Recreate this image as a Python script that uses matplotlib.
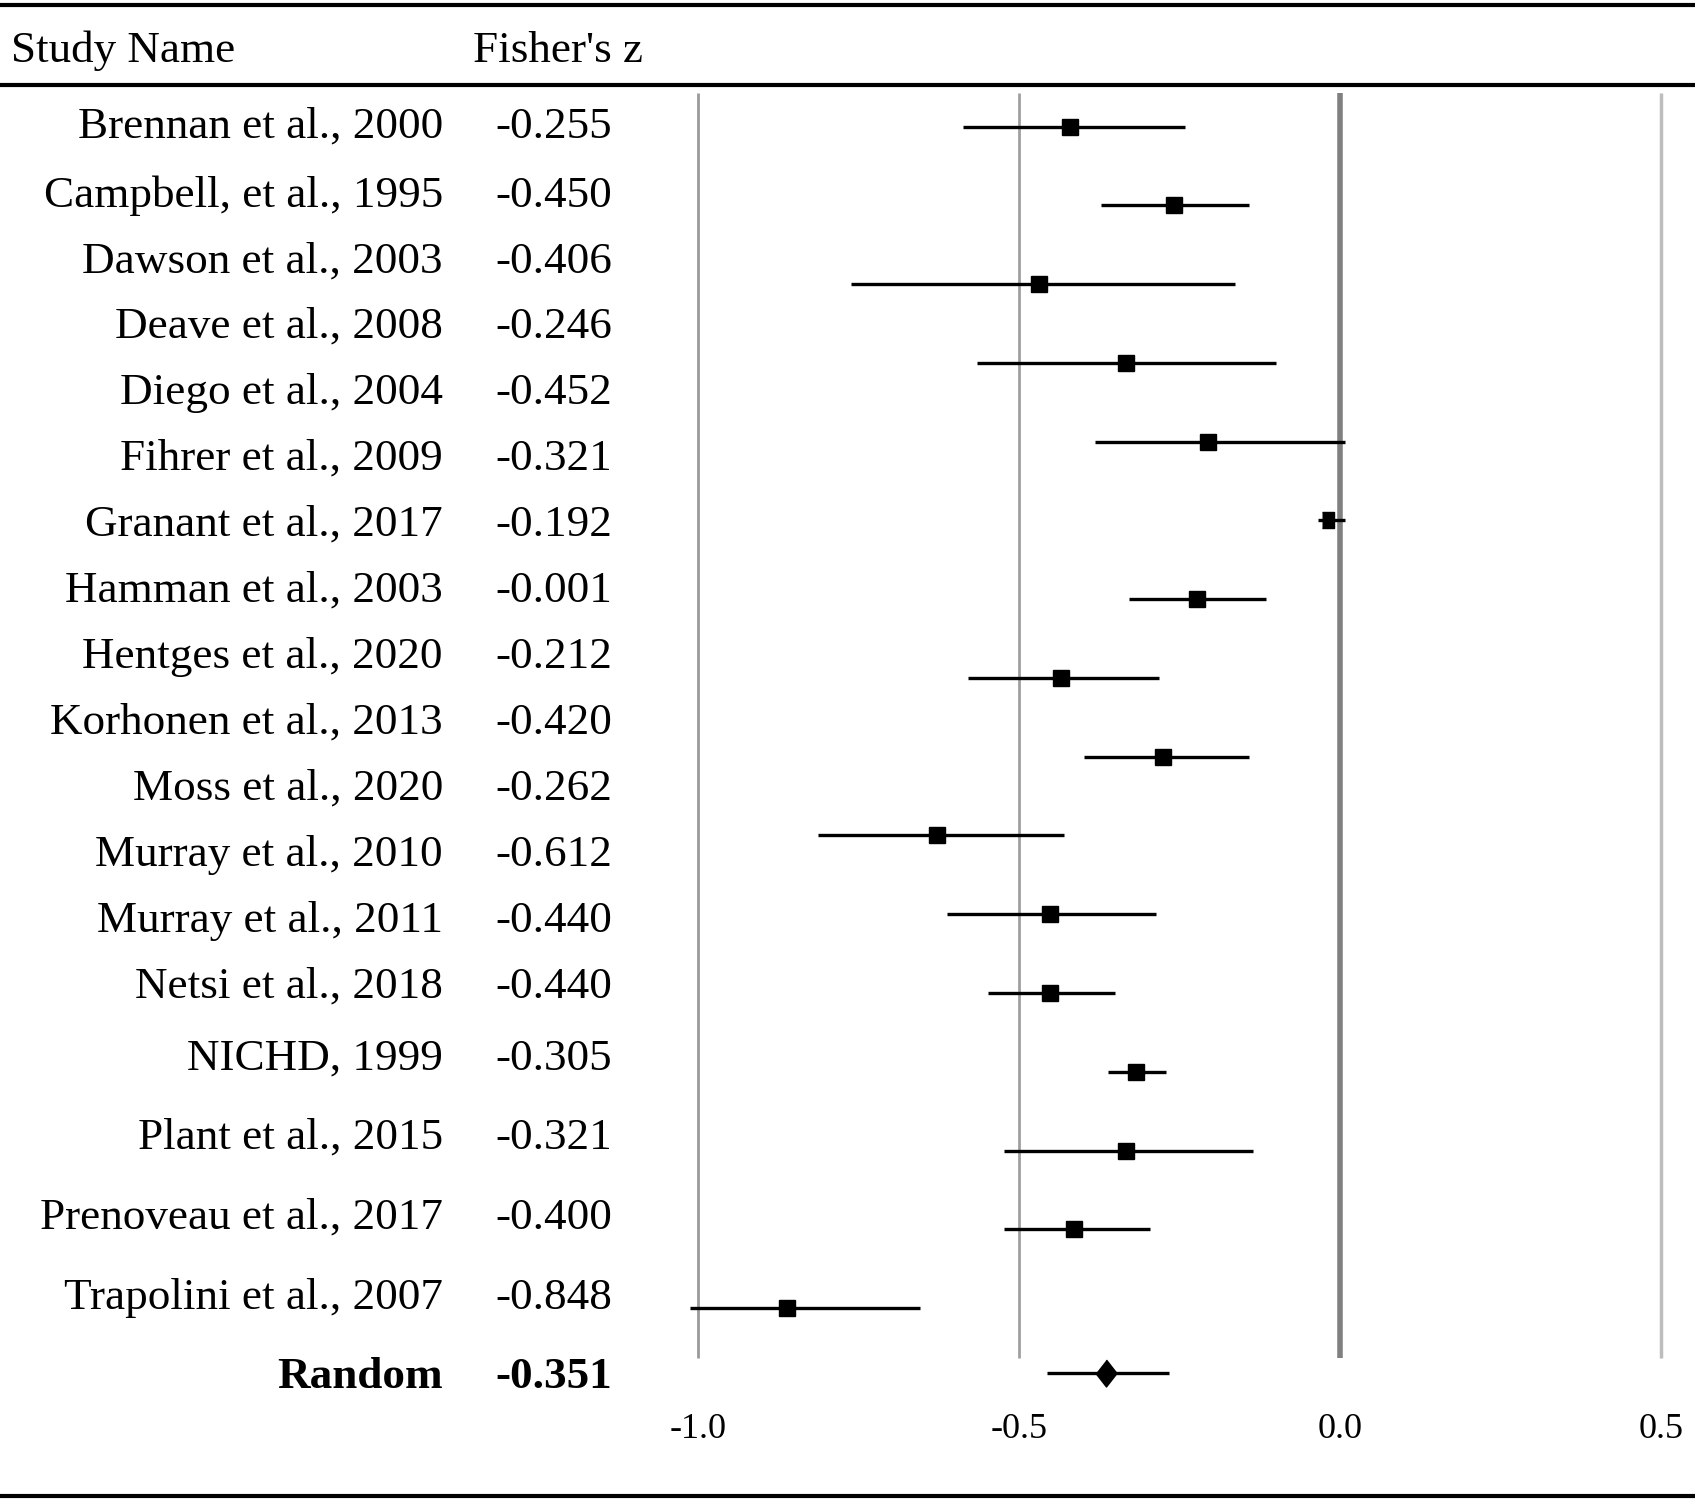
import numpy as np
import matplotlib.pyplot as plt

plt.rcParams['font.family'] = ['Liberation Serif', 'DejaVu Serif']

# table columns
study_names = ["Brennan et al., 2000", "Campbell, et al., 1995", "Dawson et al., 2003",
               "Deave et al., 2008", "Diego et al., 2004", "Fihrer et al., 2009",
               "Granant et al., 2017", "Hamman et al., 2003", "Hentges et al., 2020",
               "Korhonen et al., 2013", "Moss et al., 2020", "Murray et al., 2010",
               "Murray et al., 2011", "Netsi et al., 2018", "NICHD, 1999",
               "Plant et al., 2015", "Prenoveau et al., 2017", "Trapolini et al., 2007"]
fisher_z = ["-0.255", "-0.450", "-0.406", "-0.246", "-0.452", "-0.321", "-0.192",
            "-0.001", "-0.212", "-0.420", "-0.262", "-0.612", "-0.440", "-0.440",
            "-0.305", "-0.321", "-0.400", "-0.848"]
pooled_name = "Random"
pooled_z = "-0.351"

# plotted estimates and confidence limits (as drawn in the figure)
est = [-0.420, -0.259, -0.469, -0.334, -0.205, -0.018, -0.222, -0.435,
       -0.276, -0.627, -0.452, -0.452, -0.318, -0.334, -0.415, -0.862]
ci_lo = [-0.587, -0.373, -0.761, -0.565, -0.382, -0.034, -0.329, -0.580,
         -0.398, -0.813, -0.612, -0.548, -0.361, -0.524, -0.524, -1.013]
ci_hi = [-0.242, -0.141, -0.163, -0.099, 0.008, 0.008, -0.116, -0.282,
         -0.141, -0.430, -0.286, -0.351, -0.271, -0.136, -0.296, -0.654]
pooled_est = -0.365
pooled_lo = -0.457
pooled_hi = -0.266

xticks = [-1.0, -0.5, 0.0, 0.5]
xticklabels = ["-1.0", "-0.5", "0.0", "0.5"]

# ---- layout ----
W, H = 1695, 1503
fig = plt.figure(figsize=(W / 100, H / 100), dpi=100)

ax0 = fig.add_axes([0, 0, 1, 1])
ax0.set_xlim(0, W)
ax0.set_ylim(H, 0)
ax0.axis('off')

# horizontal rules
ax0.hlines([5, 85, 1496], 0, W, color='black', lw=3)

fs = 32.5
ax0.text(11, 51, "Study Name", fontsize=fs, ha='left', va='center')
ax0.text(473, 51, "Fisher's z", fontsize=fs, ha='left', va='center')

text_y = [127, 196, 262, 327, 393, 459, 525, 591, 657, 723, 789, 855,
          921, 987, 1059, 1138, 1218, 1298]
for name, z, y in zip(study_names, fisher_z, text_y):
    ax0.text(443, y, name, fontsize=fs, ha='right', va='center')
    ax0.text(495, y, z, fontsize=fs, ha='left', va='center')
ax0.text(443, 1377, pooled_name, fontsize=fs, ha='right', va='center', fontweight='bold')
ax0.text(495, 1377, pooled_z, fontsize=fs, ha='left', va='center', fontweight='bold')

# forest panel: x in Fisher's z, y in row units
px0, px_per = 1340.0, 642.0
row0, row_px = 126.5, 78.77
left_px, top_px, bot_px = 660, 80, 1395
ax = fig.add_axes([left_px / W, 1 - bot_px / H, (W - left_px) / W, (bot_px - top_px) / H])
ax.set_xlim((left_px - px0) / px_per, (W - px0) / px_per)
ax.set_ylim((bot_px - row0) / row_px, (top_px - row0) / row_px)
ax.patch.set_alpha(0)
for s in ax.spines.values():
    s.set_visible(False)
ax.set_yticks([])

grid_col = ['#9a9a9a', '#a0a0a0', '#808080', '#bdbdbd']
grid_lw = [2.0, 2.0, 4.0, 2.5]
for x, c, lw in zip(xticks, grid_col, grid_lw):
    ax.vlines(x, -0.42, 15.63, color=c, lw=lw, zorder=1)

rows = np.arange(len(est))
ax.hlines(rows, ci_lo, ci_hi, color='black', lw=2.4, zorder=2)
for i, (r, e) in enumerate(zip(rows, est)):
    if i == 5:
        mk = [(-0.33, -0.5), (0.33, -0.5), (0.33, 0.5), (-0.33, 0.5)]
        ax.plot(e, r, marker=mk, ms=12.2, color='black', zorder=3)
    else:
        ax.plot(e, r, marker='s', ms=12.2, color='black', zorder=3)

pooled_row = len(est) - 1 + 0.82
ax.hlines(pooled_row, pooled_lo, pooled_hi, color='black', lw=2.4, zorder=2)
ax.plot(pooled_est, pooled_row, marker=[(0, 1), (0.78, 0), (0, -1), (-0.78, 0)],
        ms=19.4, color='black', zorder=3)

ax.set_xticks(xticks, xticklabels)
ax.tick_params(axis='x', length=0, pad=13, labelsize=26)

fig.savefig("out.png", dpi=100)
plt.close(fig)
